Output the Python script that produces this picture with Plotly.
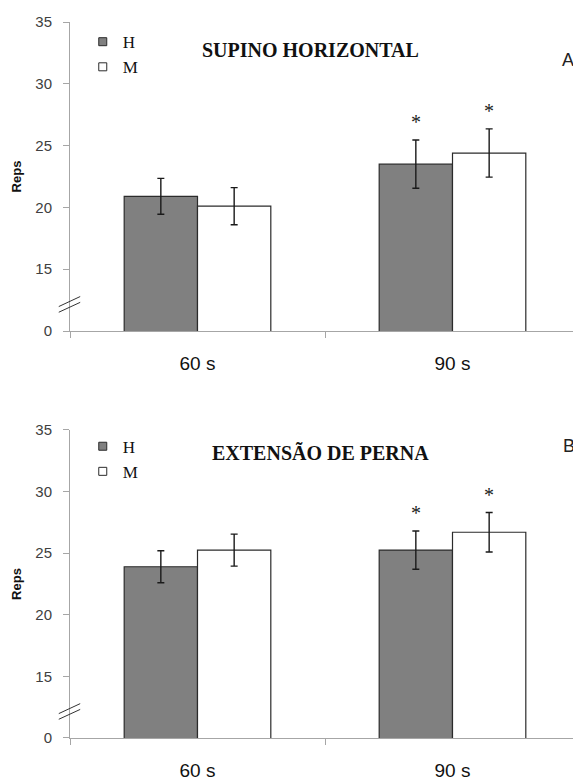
import plotly.graph_objects as go

# ---------------- data ----------------
categories = ["60 s", "90 s"]
series_names = ["H", "M"]

supino_h = [20.9, 23.5]
supino_h_err = [1.45, 1.95]
supino_m = [20.1, 24.4]
supino_m_err = [1.5, 1.95]
supino_sig_h = [False, True]
supino_sig_m = [False, True]

perna_h = [23.9, 25.25]
perna_h_err = [1.3, 1.55]
perna_m = [25.25, 26.7]
perna_m_err = [1.3, 1.6]
perna_sig_h = [False, True]
perna_sig_m = [False, True]

ytick_vals = [10, 15, 20, 25, 30, 35]
ytick_text = ["0", "15", "20", "25", "30", "35"]

panel_titles = ["SUPINO HORIZONTAL", "EXTENSÃO DE PERNA"]
panel_labels = ["A", "B"]

# ---------------- style ----------------
# page body has a default 8px margin, so the figure is sized to fit after it
W, H = 573, 773
ML, MR, MT, MB = 62, 1, 14, 43
BARGAP = 0.425
COL_H = "#808080"
COL_M = "#ffffff"
EDGE = "#2b2b2b"
AXIS_COL = "#a6a6a6"

plot_w = W - ML - MR
bar_px = (plot_w / len(categories)) * (1 - BARGAP) / 2

panels = [
    dict(h=supino_h, he=supino_h_err, m=supino_m, me=supino_m_err,
         sh=supino_sig_h, sm=supino_sig_m, title=panel_titles[0], label=panel_labels[0],
         xa="x", ya="y", legend="legend",
         title_pos=(0.472, 0.91), label_pos=(0.977, 0.877)),
    dict(h=perna_h, he=perna_h_err, m=perna_m, me=perna_m_err,
         sh=perna_sig_h, sm=perna_sig_m, title=panel_titles[1], label=panel_labels[1],
         xa="x2", ya="y2", legend="legend2",
         title_pos=(0.492, 0.925), label_pos=(0.979, 0.948)),
]

fig = go.Figure()
annotations = []
shapes = []

for p in panels:
    for name, vals, errs, col, sig, sign in [
        (series_names[0], p["h"], p["he"], COL_H, p["sh"], -1),
        (series_names[1], p["m"], p["me"], COL_M, p["sm"], 1),
    ]:
        fig.add_trace(go.Bar(
            x=categories, y=vals, name=name, showlegend=False,
            xaxis=p["xa"], yaxis=p["ya"],
            marker=dict(color=col, line=dict(color=EDGE, width=1.2)),
            error_y=dict(type="data", array=errs, visible=True,
                         color="#1a1a1a", thickness=1.4, width=3.5),
        ))
        # legend-only entry with a small square symbol
        fig.add_trace(go.Scatter(
            x=[None], y=[None], mode="markers", name=name,
            legend=p["legend"], legendgroup=name + p["legend"],
            xaxis=p["xa"], yaxis=p["ya"],
            marker=dict(symbol="square", size=8, color=col,
                        line=dict(color=EDGE, width=1)),
        ))
        for c, v, e, s in zip(categories, vals, errs, sig):
            if s:
                annotations.append(dict(
                    x=c, y=v + e, xref=p["xa"], yref=p["ya"],
                    text="*", showarrow=False, yanchor="bottom",
                    xshift=sign * bar_px / 2, yshift=5,
                    font=dict(family="Liberation Serif", size=20, color="#1a1a1a"),
                ))
    ydom = p["ya"] + " domain"
    annotations.append(dict(
        x=p["title_pos"][0], y=p["title_pos"][1], xref=p["xa"] + " domain", yref=ydom,
        text="<b>" + p["title"] + "</b>", showarrow=False,
        font=dict(family="Liberation Serif", size=20, color="#111111"),
        xanchor="center", yanchor="middle",
    ))
    annotations.append(dict(
        x=p["label_pos"][0], y=p["label_pos"][1], xref=p["xa"] + " domain", yref=ydom,
        text=p["label"], showarrow=False,
        font=dict(family="Liberation Sans", size=18, color="#222222"),
        xanchor="center", yanchor="middle",
    ))
    # axis break marks
    for y0, y1 in [(11.98, 12.79), (11.52, 12.32)]:
        shapes.append(dict(type="line", xref=p["xa"] + " domain", yref=p["ya"],
                           x0=-0.022, x1=0.02, y0=y0, y1=y1,
                           line=dict(color="#333333", width=1)))

xaxis_style = dict(
    type="category", showline=True, linecolor=AXIS_COL, linewidth=1,
    ticks="outside", tickson="boundaries", ticklen=6, tickcolor=AXIS_COL,
    showgrid=False, zeroline=False, ticklabelstandoff=15, automargin=False,
    tickfont=dict(family="Liberation Sans", size=19, color="#111111"),
)
yaxis_style = dict(
    range=[10, 35], tickvals=ytick_vals, ticktext=ytick_text,
    showline=True, linecolor=AXIS_COL, linewidth=1,
    ticks="outside", ticklen=6, tickcolor=AXIS_COL,
    showgrid=False, zeroline=False, ticklabelstandoff=8, automargin=False,
    tickfont=dict(family="Liberation Sans", size=15, color="#404040"),
    title=dict(text="<b>Reps</b>", standoff=10,
               font=dict(family="Liberation Sans", size=13, color="#111111")),
)

legend_style = dict(
    xanchor="left", yanchor="top", bgcolor="rgba(0,0,0,0)",
    font=dict(family="Liberation Serif", size=17, color="#111111"),
    traceorder="grouped", tracegroupgap=0, itemwidth=30,
)

fig.update_layout(
    width=W, height=H,
    margin=dict(l=ML, r=MR, t=MT, b=MB, autoexpand=False),
    paper_bgcolor="white", plot_bgcolor="white",
    barmode="group", bargap=BARGAP, bargroupgap=0,
    showlegend=True,
    xaxis=dict(anchor="y", domain=[0, 1], **xaxis_style),
    xaxis2=dict(anchor="y2", domain=[0, 1], **xaxis_style),
    yaxis=dict(anchor="x", domain=[0.5684, 1], **yaxis_style),
    yaxis2=dict(anchor="x2", domain=[0, 0.4302], **yaxis_style),
    legend=dict(x=0.025, y=0.997, **legend_style),
    legend2=dict(x=0.025, y=0.432, **legend_style),
    annotations=annotations,
    shapes=shapes,
)

fig.write_html("out.html")
